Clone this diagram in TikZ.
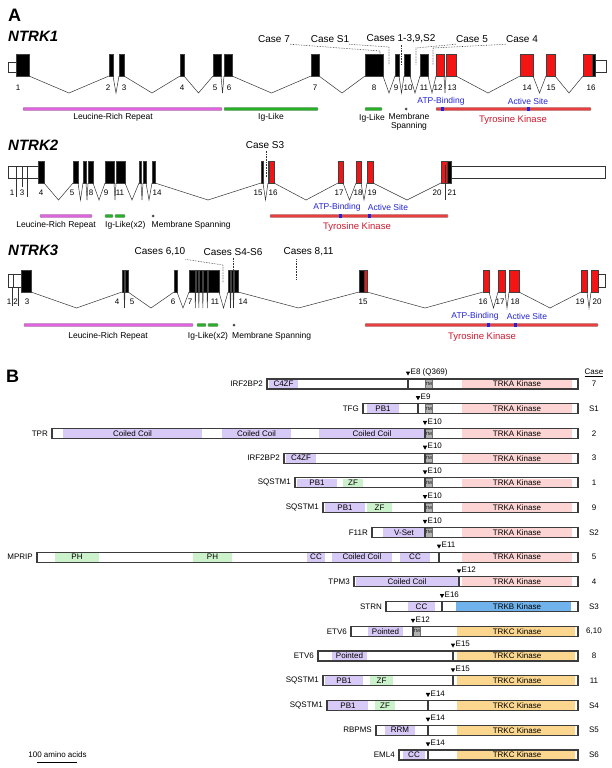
\documentclass[tikz,border=0pt]{standalone}
\usepackage{fontspec}
\setmainfont{Liberation Sans}
\usepackage{tikz}

\definecolor{exred}{RGB}{245,20,20}
\definecolor{lrrmag}{RGB}{224,100,224}
\definecolor{iggrn}{RGB}{40,175,40}
\definecolor{tkred}{RGB}{232,64,64}
\definecolor{tktxt}{RGB}{205,25,45}
\definecolor{sitebl}{RGB}{35,35,210}
\definecolor{dompur}{RGB}{216,202,246}
\definecolor{domgrn}{RGB}{204,242,204}
\definecolor{trka}{RGB}{252,212,212}
\definecolor{trkb}{RGB}{112,178,236}
\definecolor{trkc}{RGB}{250,214,142}
\definecolor{tmgray}{RGB}{178,178,178}
\definecolor{barline}{RGB}{60,60,60}

\tikzset{
  panlbl/.style={font=\fontsize{18}{20}\selectfont\bfseries, inner sep=0pt},
  genelbl/.style={font=\fontsize{15}{17}\selectfont\bfseries\itshape, inner sep=0pt, anchor=west},
  exon/.style={draw=black!75, line width=0.3pt},
  utr/.style={draw=black!80, fill=white, line width=0.5pt},
  intron/.style={black!80, line width=0.5pt},
  exnum/.style={font=\fontsize{8}{9}\selectfont, inner sep=0pt},
  caselbl/.style={font=\fontsize{10}{12}\selectfont, inner sep=0pt},
  caseline/.style={densely dotted, line width=0.6pt, black!80},
  dbar/.style={draw=black!45, line width=0.3pt, rounded corners=1pt},
  domlbl/.style={font=\fontsize{8.5}{8.7}\selectfont, inner sep=0pt},
  sitelbl/.style={domlbl, text=sitebl},
  tklbl/.style={font=\fontsize{9.5}{11}\selectfont, inner sep=0pt, text=tktxt},
  tmdot/.style={fill=black!70},
  pbar/.style={draw=barline, line width=1.1pt},
  plbl/.style={font=\fontsize{8}{9}\selectfont, inner sep=0pt},
  tmbox/.style={fill=tmgray, draw=black!55, line width=0.3pt},
  tmlbl/.style={font=\fontsize{4.5}{5}\selectfont, inner sep=0pt},
}

% fusion rows: row/gene/start/break/exon/kinase colour/kinase/kinase from/to/case
\def\rowlist{1/IRF2BP2/267/408/{E8 (Q369)}/trka/TRKA/462/572/7,
  2/TFG/363/418/E9/trka/TRKA/462/572/S1,
  3/TPR/52/425/E10/trka/TRKA/462/572/2,
  4/IRF2BP2/284/425/E10/trka/TRKA/462/572/3,
  5/SQSTM1/295/425/E10/trka/TRKA/462/572/1,
  6/SQSTM1/323/425/E10/trka/TRKA/462/572/9,
  7/F11R/372/425/E10/trka/TRKA/462/572/S2,
  8/MPRIP/37/439/E11/trka/TRKA/462/572/5,
  9/TPM3/354/459/E12/trka/TRKA/462/572/4,
  10/STRN/386/442/E16/trkb/TRKB/456/571/S3,
  11/ETV6/351/413/E12/trkc/TRKC/457/575/{6,10},
  12/ETV6/318/453/E15/trkc/TRKC/457/575/8,
  13/SQSTM1/323/453/E15/trkc/TRKC/457/575/11,
  14/SQSTM1/327/428/E14/trkc/TRKC/457/575/S4,
  15/RBPMS/376/428/E14/trkc/TRKC/457/575/S5,
  16/EML4/399/428/E14/trkc/TRKC/457/575/S6}

\begin{document}
\begin{tikzpicture}[x=1pt,y=-1pt]
\useasboundingbox (0,0) rectangle (612,768);

%%% A: gene structures
\node[panlbl] (pA) at (14.5,15) {A};

% NTRK1
\node[genelbl] (n1) at (8,36) {NTRK1};
\filldraw[utr] (8,62) rectangle (16,72);
\foreach \xa/\xe/\col in {16/29/black,109/113/black,119/124/black,180/184/black,
    213/221/black,224/232/black,311/319/black,365/383/black,395/399/black,
    404/410/black,420/428/black,436/444/exred,446/456/exred,520/533/exred,
    546/555/exred,583/592/exred,592/595/black}
  \filldraw[exon,fill=\col] (\xa,54) rectangle (\xe,76);
\filldraw[utr] (595,60.5) rectangle (606,72);
\foreach \p/\q in {29/109,113/119,124/180,184/213,221/224,232/311,319/365,383/395,
    399/404,410/420,428/436,444/446,456/520,533/546,555/583}
  \draw[intron] (\p,76) -- ({(\p+\q)/2},93) -- (\q,76);
\foreach \x/\l in {18/1,108/2,124/3,182/4,215/5,229/6,315/7,374/8,396/9,408/10,
    424/11,438/12,452/13,527/14,551/15,591/16}
  \node[exnum] (ea\l) at (\x,88) {\l};

\node[caselbl] (c7) at (274,39) {Case 7};
\node[caselbl] (cS1) at (330,39) {Case S1};
\node[caselbl] (cA) at (401,39) {Cases 1-3,9,S2};
\node[caselbl] (c5) at (472,39) {Case 5};
\node[caselbl] (c4) at (522,39) {Case 4};
\draw[caseline] ([yshift=-1.5pt]c7.south east) -- (380,51) -- (380,54);
\draw[caseline] ([yshift=-1.5pt]cS1.south east) -- (389,47) -- (389,65);
\draw[caseline] ([yshift=-1.5pt]cA.south) -- (401,65);
\draw[caseline] ([yshift=-1.5pt]c5.south west) -- (416,48) -- (416,65);
\draw[caseline] ([yshift=-1.5pt]c4.south west) -- (433,48) -- (433,65);

\filldraw[dbar,fill=lrrmag] (23,107.3) rectangle (222,110.7);
\node[domlbl] (d1a) at (113,117.5) {Leucine-Rich Repeat};
\filldraw[dbar,fill=iggrn] (224,107.3) rectangle (318,110.7);
\node[domlbl] (d1b) at (271,117.5) {Ig-Like};
\filldraw[dbar,fill=iggrn] (365,107.3) rectangle (382,110.7);
\node[domlbl] (d1c) at (372,118) {Ig-Like};
\fill[tmdot] (406,109) circle (1.5);
\node[domlbl,align=center] (d1d) at (409,121.5) {Membrane\\Spanning};
\filldraw[dbar,fill=tkred] (436,107.3) rectangle (591,110.7);
\fill[sitebl] (440.5,107.3) rectangle (443.5,110.7);
\fill[sitebl] (526.5,107.3) rectangle (529.5,110.7);
\node[sitelbl] (s1a) at (441,101) {ATP-Binding};
\node[sitelbl] (s1b) at (528,101) {Active Site};
\node[tklbl] (t1) at (513,120) {Tyrosine Kinase};

% NTRK2
\node[genelbl] (n2) at (8,145) {NTRK2};
\filldraw[utr] (8,166) rectangle (38,178);
\draw[intron] (16.5,166) -- (16.5,197) (22,166) -- (22,187) (27,166) -- (27,197);
\foreach \xa/\xe/\col in {38/44/black,73/78/black,83/86/black,88/93/black,
    105/114/black,116/125/black,139/141/black,143/146/black,152/155/black,
    261/263/black,268/269.5/black,269.5/274/exred,338/343/exred,356/361/exred,
    367/373/exred,441/447/exred,447/451/black}
  \filldraw[exon,fill=\col] (\xa,161) rectangle (\xe,183);
\filldraw[utr] (451,166) rectangle (605,178);
\foreach \p/\q in {44/73,78/83,86/88,93/105,114/116,125/139,141/143,146/152,
    155/261,263/268,274/338,343/356,361/367,373/441}
  \draw[intron] (\p,183) -- ({(\p+\q)/2},200) -- (\q,183);
\draw[intron] (445,165) -- (445,200);
\foreach \x/\l in {12/1,22/3,41/4,72/5,91/8,106/9,120/11,157/14,258/15,273/16,
    339/17,358/18,372/19,437/20,452/21}
  \node[exnum] (eb\l) at (\x,192.5) {\l};

\node[caselbl] (cS3) at (265,145) {Case S3};
\draw[caseline] (cS3.south) ++(1,2) -- ++(0,26);

\filldraw[dbar,fill=lrrmag] (40,214.3) rectangle (92,217.7);
\node[domlbl] (d2a) at (56,225) {Leucine-Rich Repeat};
\filldraw[dbar,fill=iggrn] (105,214.3) rectangle (113,217.7);
\filldraw[dbar,fill=iggrn] (115,214.3) rectangle (125,217.7);
\node[domlbl,anchor=west] (d2b) at (105,225) {Ig-Like(x2)};
\fill[tmdot] (153,216) circle (1.5);
\node[domlbl,anchor=west] (d2c) at (151.5,225) {Membrane Spanning};
\filldraw[dbar,fill=tkred] (270,214.3) rectangle (448,217.7);
\fill[sitebl] (338.5,214.3) rectangle (341.5,217.7);
\fill[sitebl] (367.5,214.3) rectangle (370.5,217.7);
\node[sitelbl] (s2a) at (337,207) {ATP-Binding};
\node[sitelbl] (s2b) at (388,207) {Active Site};
\node[tklbl] (t2) at (357,227) {Tyrosine Kinase};

% NTRK3
\node[genelbl] (n3) at (8,250.5) {NTRK3};
\filldraw[utr] (8,274) rectangle (21,287);
\draw[intron] (13,274) -- (13,287);
\draw[intron] (12.5,287) -- (12.5,306) (18.5,287) -- (18.5,306);
\foreach \xa/\xe/\col in {21/31/black,122/124/black,125/128/black,174/177/black,
    189/195/black,195.7/198.5/black,199.2/202.5/black,203.2/207/black,
    207.7/219/black,228/230/black,231/233/black,234/238/black,359/364/black,
    364/367/exred,483/489/exred,498/505/exred,509/519/exred,581/587/exred,
    591/598/exred}
  \filldraw[exon,fill=\col] (\xa,270) rectangle (\xe,292);
\filldraw[utr] (598,274) rectangle (605,287);
\foreach \p/\q in {31/122,124/125,128/174,177/189,195/195.7,198.5/199.2,
    202.5/203.2,207/207.7,219/228,230/231,233/234,238/359,367/483,489/498,
    505/509,519/581,587/591}
  \draw[intron] (\p,292) -- ({(\p+\q)/2},308) -- (\q,292);
\foreach \x/\l in {9/1,15.5/2,27/3,117/4,132/5,173/6,190/7,215/11,243/14,363/15,
    483/16,500/17,515/18,580/19,597/20}
  \node[exnum] (ec\l) at (\x,302) {\l};

\node[caselbl] (c610) at (160,252) {Cases 6,10};
\node[caselbl] (cS46) at (233,252) {Cases S4-S6};
\node[caselbl] (c811) at (308.5,252) {Cases 8,11};
\draw[caseline] ([yshift=-3pt]c610.south east) -- (223,265) -- (223,282);
\draw[caseline] ([yshift=-2pt]cS46.south) -- ++(0,14);
\draw[caseline] (c811.south west) ++(12.5,3) -- ++(0,20);

\filldraw[dbar,fill=lrrmag] (24,323.3) rectangle (193,326.7);
\node[domlbl] (d3a) at (108,336) {Leucine-Rich Repeat};
\filldraw[dbar,fill=iggrn] (197,323.3) rectangle (206,326.7);
\filldraw[dbar,fill=iggrn] (208,323.3) rectangle (218,326.7);
\node[domlbl] (d3b) at (208,336) {Ig-Like(x2)};
\fill[tmdot] (234,325) circle (1.5);
\node[domlbl,anchor=west] (d3c) at (232,336) {Membrane Spanning};
\filldraw[dbar,fill=tkred] (365,323.3) rectangle (598,326.7);
\fill[sitebl] (486.5,323.3) rectangle (489.5,326.7);
\fill[sitebl] (513.5,323.3) rectangle (516.5,326.7);
\node[sitelbl] (s3a) at (475,316) {ATP-Binding};
\node[sitelbl] (s3b) at (527,316) {Active Site};
\node[tklbl] (t3) at (482,337) {Tyrosine Kinase};

%%% B: fusion proteins
\node[panlbl] (pB) at (12.5,376.5) {B};
\node[plbl] (chdr) at (594,373) {\underline{Case}};

% white bars
\foreach \r/\gn/\xs/\xb/\en/\kc/\kt/\ks/\ke/\cnum in \rowlist {
  \pgfmathsetmacro\y{384+(\r-1)*24.73}
  \fill[white] (\xs,{\y-5}) rectangle (578,{\y+5});
}

% domains
\foreach \r/\da/\db/\dn/\col in {1/269/298/C4ZF/dompur,2/367/399/PB1/dompur,
    3/63/202/Coiled Coil/dompur,3/222/291/Coiled Coil/dompur,
    3/319/425/Coiled Coil/dompur,4/286/316/C4ZF/dompur,5/297/337/PB1/dompur,
    5/343/363/ZF/domgrn,6/325/365/PB1/dompur,6/367/392/ZF/domgrn,
    7/383/425/V-Set/dompur,8/55/99/PH/domgrn,8/193/232/PH/domgrn,
    8/307/325/CC/dompur,8/332/392/Coiled Coil/dompur,8/400/430/CC/dompur,
    9/356/458/Coiled Coil/dompur,10/408/435/CC/dompur,11/368/403/Pointed/dompur,
    12/332/367/Pointed/dompur,13/325/363/PB1/dompur,13/370/393/ZF/domgrn,
    14/328/368/PB1/dompur,14/375/395/ZF/domgrn,15/385/415/RRM/dompur,
    16/403/425/CC/dompur} {
  \pgfmathsetmacro\y{384+(\r-1)*24.73}
  \fill[\col] (\da,{\y-4.4}) rectangle (\db,{\y+4.4});
  \node[plbl] (dm\r-\da) at ({(\da+\db)/2},\y) {\dn};
}

% transmembrane
\foreach \r/\da in {1/425,2/425,3/425,4/425,5/425,6/425,7/425,11/413} {
  \pgfmathsetmacro\y{384+(\r-1)*24.73}
  \filldraw[tmbox] (\da,{\y-4.4}) rectangle ({\da+7},{\y+4.4});
  \node[tmlbl] (tm\r) at ({\da+3.5},\y) {TM};
}

% kinase, outline, breakpoint
\foreach \r/\gn/\xs/\xb/\en/\kc/\kt/\ks/\ke/\cnum in \rowlist {
  \pgfmathsetmacro\y{384+(\r-1)*24.73}
  \fill[\kc] (\ks,{\y-4.4}) rectangle (\ke,{\y+4.4});
  \node[plbl] (kn\r) at (517,\y) {\kt{} Kinase};
  \draw[pbar] (\xs,{\y-5}) rectangle (578,{\y+5});
  \draw[pbar] (\xb,{\y-5}) -- (\xb,{\y+5});
  \fill[black] ({\xb-2.2},{\y-12.5}) -- ({\xb+2.2},{\y-12.5}) -- (\xb,{\y-8.5}) -- cycle;
  \node[plbl,anchor=west] (ex\r) at ({\xb+2.5},{\y-12}) {\en};
  \node[plbl,anchor=east] (gn\r) at ({\xs-4},\y) {\gn};
  \node[plbl] (cs\r) at (594,\y) {\cnum};
}

% scale
\node[plbl] (sc) at (57.5,754.5) {100 amino acids};
\draw[line width=0.8pt] (sc.south -| 37,0) ++(0,5) -- ++(40,0);
\end{tikzpicture}
\end{document}
